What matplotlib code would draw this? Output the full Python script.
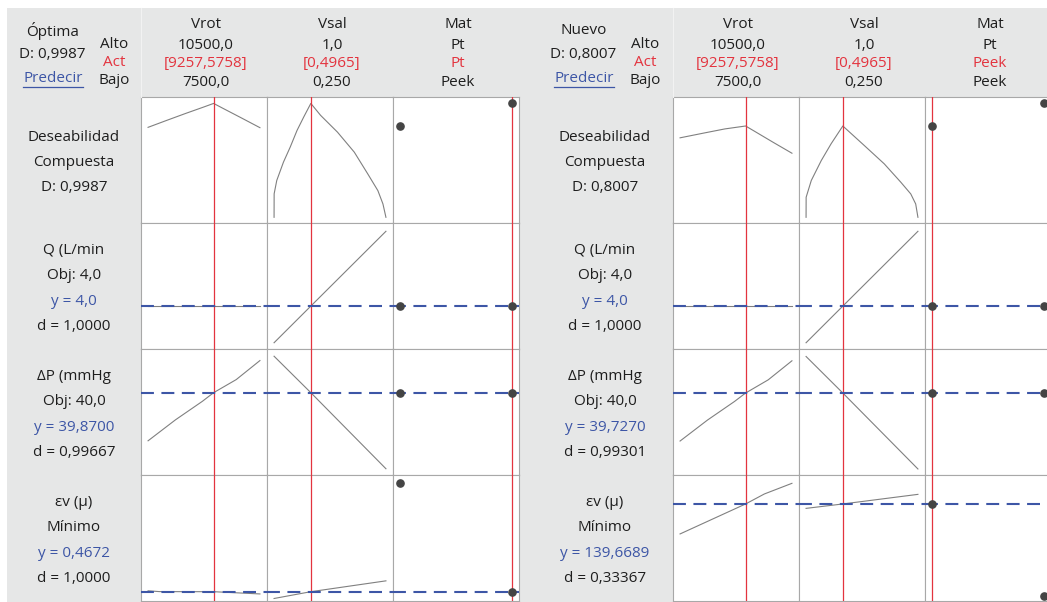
import matplotlib
matplotlib.use("Agg")
import matplotlib.pyplot as plt
from matplotlib.patches import Rectangle
from matplotlib.lines import Line2D

# ---- factor settings ----
vrot_lo, vrot_hi, vrot_act = 7500.0, 10500.0, 9257.5758
vsal_lo, vsal_hi, vsal_act = 0.250, 1.0, 0.4965
mat_levels = ["Peek", "Pt"]

# ---- composite desirability traces ----
d_pt_vrot_x = [7500, 8000, 8500, 9000, 9257.5758, 9500, 10000, 10500]
d_pt_vrot_y = [0.789, 0.850, 0.910, 0.968, 0.9987, 0.957, 0.872, 0.786]
d_pt_vsal_x = [0.25, 0.2505, 0.268, 0.313, 0.358, 0.404, 0.449, 0.4965,
               0.562, 0.675, 0.788, 0.878, 0.946, 0.980, 1.0]
d_pt_vsal_y = [0.0, 0.206, 0.323, 0.484, 0.615, 0.762, 0.880, 0.9987,
               0.894, 0.747, 0.571, 0.381, 0.234, 0.117, 0.0]
d_peek_vrot_x = [7500, 8140, 8700, 9257.5758, 9500, 10000, 10500]
d_peek_vrot_y = [0.697, 0.739, 0.775, 0.8007, 0.754, 0.657, 0.562]
d_peek_vsal_x = [0.25, 0.2505, 0.285, 0.352, 0.418, 0.4965, 0.640,
                 0.774, 0.885, 0.952, 0.985, 1.0]
d_peek_vsal_y = [0.0, 0.176, 0.323, 0.498, 0.645, 0.8007, 0.630,
                 0.469, 0.308, 0.205, 0.117, 0.0]
d_mat = [0.8007, 0.9987]

# ---- Q (L/min) ----
q_vrot_x = [7500, 10500]
q_vrot_y = [4.0, 4.0]
q_vsal_x = [0.25, 0.4965, 1.0]
q_vsal_y = [2.01, 4.0, 8.06]
q_mat = [4.0, 4.0]

# ---- dP (mmHg) ----
dp_vrot_x = [7500, 8235, 8958, 9257.5758, 9864, 10500]
dp_pt_vrot_y = [19.9, 28.6, 36.3, 39.87, 45.3, 53.2]
dp_peek_vrot_y = [19.8, 28.5, 36.2, 39.727, 45.2, 53.1]
dp_vsal_x = [0.25, 0.4965, 1.0]
dp_pt_vsal_y = [55.0, 39.87, 8.3]
dp_peek_vsal_y = [54.9, 39.727, 8.2]
dp_mat = [39.727, 39.87]

# ---- ev (mu) ----
ev_pt_vrot_x = [7500, 7800, 8500, 9257.5758, 10500]
ev_pt_vrot_y = [1.6, 0.6, 0.5, 0.4672, -2.4]
ev_peek_vrot_x = [7500, 9257.5758, 9761, 10500]
ev_peek_vrot_y = [94.3, 139.6689, 154.8, 170.9]
ev_vsal_x = [0.25, 0.4965, 1.0]
ev_pt_vsal_y = [-8.2, 0.4672, 14.3]
ev_peek_vsal_y = [133.0, 139.6689, 154.2]
ev_mat = [139.6689, 0.4672]

# predicted responses, desirabilities
panels = [
    dict(title="Óptima", D=0.9987, mat_act="Pt",
         y=[4.0, 39.87, 0.4672], d=[1.0, 0.99667, 1.0],
         dcurves=[(d_pt_vrot_x, d_pt_vrot_y), (d_pt_vsal_x, d_pt_vsal_y)],
         qcurves=[(q_vrot_x, q_vrot_y), (q_vsal_x, q_vsal_y)],
         dpcurves=[(dp_vrot_x, dp_pt_vrot_y), (dp_vsal_x, dp_pt_vsal_y)],
         evcurves=[(ev_pt_vrot_x, ev_pt_vrot_y), (ev_vsal_x, ev_pt_vsal_y)],
         ev_ylim=(-11.4, 149.3)),
    dict(title="Nuevo", D=0.8007, mat_act="Peek",
         y=[4.0, 39.727, 139.6689], d=[1.0, 0.99301, 0.33367],
         dcurves=[(d_peek_vrot_x, d_peek_vrot_y), (d_peek_vsal_x, d_peek_vsal_y)],
         qcurves=[(q_vrot_x, q_vrot_y), (q_vsal_x, q_vsal_y)],
         dpcurves=[(dp_vrot_x, dp_peek_vrot_y), (dp_vsal_x, dp_peek_vsal_y)],
         evcurves=[(ev_peek_vrot_x, ev_peek_vrot_y), (ev_vsal_x, ev_peek_vsal_y)],
         ev_ylim=(-7.2, 183.5)),
]

W, H = 1047, 602
plt.rcParams['font.family'] = ['Open Sans', 'DejaVu Sans']
plt.rcParams['font.size'] = 11

BG = '#e6e7e7'
CURVE = '#808080'
RED = '#e3343f'
BLUE = '#3d56a6'
TXT = '#1e1e1e'
DOT = '#444444'
EDGE = '#a8a8a8'

fig = plt.figure(figsize=(W / 100, H / 100), dpi=100)
fig.patch.set_facecolor('white')


def box(x, y, w, h):
    # pixel box measured from the top-left corner -> figure fractions
    return [x / W, 1 - (y + h) / H, w / W, h / H]


def ftext(x, y, s, **kw):
    kw.setdefault('color', TXT)
    return fig.text(x / W, 1 - y / H, s, ha='center', va='center', **kw)


def fmt(v, nd):
    return f"{v:.{nd}f}".replace(".", ",")


def pad(lo, hi, p=0.0632):
    span = hi - lo
    return lo - p * span, hi + p * span


panel_x = [7, 538]
panel_w = [530.5, 509]
grid_left = [141, 673]
cell = 126
top = 97

for pi, p in enumerate(panels):
    x0 = panel_x[pi]
    fig.add_artist(Rectangle((x0 / W, 0), panel_w[pi] / W, 1 - 8 / H,
                             transform=fig.transFigure, facecolor=BG,
                             edgecolor='none', zorder=0))
    gl = grid_left[pi]
    fig.add_artist(Line2D([gl / W, gl / W], [1 - 8 / H, 1 - top / H],
                          transform=fig.transFigure, color='#f2f2f2', lw=0.8))

    # header block
    ftext(x0 + 45.5, 31, p["title"])
    ftext(x0 + 45.5, 54, "D: " + fmt(p["D"], 4))
    pred = ftext(x0 + 46, 78, "Predecir", color=BLUE)
    ftext(x0 + 107, 44, "Alto")
    ftext(x0 + 107, 62.5, "Act", color=RED)
    ftext(x0 + 107, 81, "Bajo")

    names = ["Vrot", "Vsal", "Mat"]
    highs = [fmt(vrot_hi, 1), fmt(vsal_hi, 1), mat_levels[1]]
    acts = ["[" + fmt(vrot_act, 4) + "]", "[" + fmt(vsal_act, 4) + "]", p["mat_act"]]
    lows = [fmt(vrot_lo, 1), fmt(vsal_lo, 3), mat_levels[0]]
    for c in range(3):
        cx = gl + cell * c + cell / 2 + 2
        ftext(cx, 25, names[c])
        ftext(cx, 45.5, highs[c])
        ftext(cx, 63.5, acts[c], color=RED)
        ftext(cx, 82.5, lows[c])

    # row labels
    lx = x0 + 67
    row_labels = [
        [("Deseabilidad", TXT), ("Compuesta", TXT), ("D: " + fmt(p["D"], 4), TXT)],
        [("Q (L/min", TXT), ("Obj: 4,0", TXT), ("y = " + fmt(p["y"][0], 1), BLUE),
         ("d = " + fmt(p["d"][0], 4), TXT)],
        [("ΔP (mmHg", TXT), ("Obj: 40,0", TXT), ("y = " + fmt(p["y"][1], 4), BLUE),
         ("d = " + fmt(p["d"][1], 5), TXT)],
        [("εv (μ)", TXT), ("Mínimo", TXT), ("y = " + fmt(p["y"][2], 4), BLUE),
         ("d = " + fmt(p["d"][2], 5 if p["d"][2] < 1 else 4), TXT)],
    ]
    for r, lines in enumerate(row_labels):
        n = len(lines)
        for i, (s, col) in enumerate(lines):
            ftext(lx, top + r * cell + 65.5 + (i - (n - 1) / 2) * 25.3, s, color=col)

    # grid of cells
    rows = [
        (p["dcurves"], d_mat, None, (-0.05, 1.055)),
        (p["qcurves"], q_mat, p["y"][0], (1.67, 8.51)),
        (p["dpcurves"], dp_mat, p["y"][1], (5.7, 58.0)),
        (p["evcurves"], ev_mat, p["y"][2], p["ev_ylim"]),
    ]
    xlims = [pad(vrot_lo, vrot_hi), pad(vsal_lo, vsal_hi), pad(0, 1)]
    acts_x = [vrot_act, vsal_act, mat_levels.index(p["mat_act"])]
    for r, (curves, mat_vals, yhat, ylim) in enumerate(rows):
        for c in range(3):
            ax = fig.add_axes(box(gl + cell * c, top + cell * r, cell, cell))
            ax.set_facecolor('white')
            ax.set_xlim(*xlims[c])
            ax.set_ylim(*ylim)
            ax.set_xticks([])
            ax.set_yticks([])
            for sp in ax.spines.values():
                sp.set_color(EDGE)
                sp.set_linewidth(0.8)
            if c < 2:
                xs, ys = curves[c]
                ax.plot(xs, ys, color=CURVE, lw=0.8, zorder=2)
            else:
                ax.plot([0, 1], mat_vals, 'o', color=DOT, ms=5.2, zorder=5,
                        clip_on=False)
            ax.axvline(acts_x[c], color=RED, lw=0.9, zorder=3)
            if yhat is not None:
                ax.axhline(yhat, color=BLUE, lw=1.5, ls=(0, (6.2, 3.6)), zorder=4)

    # underline the Predecir link
    renderer = fig.canvas.get_renderer()
    bb = pred.get_window_extent(renderer)
    fig.add_artist(Line2D([bb.x0 / W, bb.x1 / W], [(bb.y0 - 1) / H] * 2,
                          transform=fig.transFigure, color=BLUE, lw=0.9))

fig.savefig("out.png", dpi=100)
